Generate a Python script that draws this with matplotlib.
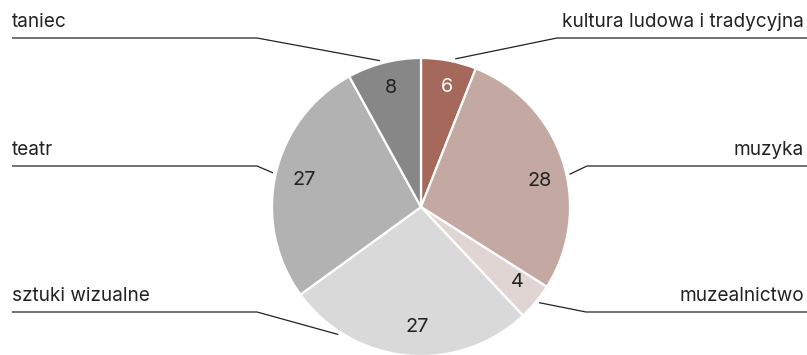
import numpy as np
import matplotlib.pyplot as plt

plt.rcParams['font.family'] = ['Inter', 'DejaVu Sans']

categories = ['kultura ludowa i tradycyjna', 'muzyka', 'muzealnictwo',
              'sztuki wizualne', 'teatr', 'taniec']
values = [6, 28, 4, 27, 27, 8]
colors = ['#a5695b', '#c4a8a2', '#e0d5d3', '#d9d9d9', '#b2b2b2', '#878787']
value_colors = ['white', '#222222', '#222222', '#222222', '#222222', '#222222']

W, H = 807, 355
fig = plt.figure(figsize=(W / 100, H / 100), dpi=100)
ax = fig.add_axes([0, 0, 1, 1])

cx, cy, R = 421, H - 207, 149
ax.pie(values, colors=colors, startangle=90, counterclock=False,
       radius=R, center=(cx, cy),
       wedgeprops=dict(edgecolor='white', linewidth=1.6))

# value labels and leader line anchors (angle in degrees)
value_angle = [78, 12.5, -38, 268, 167, 104]
value_r = [123, 122, 122, 120, 120, 123]
anchor_angle = [77, 12.4, -39, 237, 167, 105.7]
side = ['r', 'r', 'r', 'l', 'l', 'l']
line_y = [38, 166, 312, 312, 166, 38]
bend_x = [557, 587, 586, 257, 257, 257]

for i, cat in enumerate(categories):
    a = np.radians(value_angle[i])
    ax.text(cx + value_r[i] * np.cos(a), cy + value_r[i] * np.sin(a),
            str(values[i]), ha='center', va='center', fontsize=14.3,
            color=value_colors[i])

    b = np.radians(anchor_angle[i])
    px, py = cx + (R + 3) * np.cos(b), cy + (R + 3) * np.sin(b)
    ly = H - line_y[i]
    if side[i] == 'r':
        xs = [px, bend_x[i], W]
        ax.text(W - 3, ly + 7, cat, ha='right', va='bottom',
                fontsize=13.7, color='#222222')
    else:
        xs = [px, bend_x[i], 12]
        ax.text(12, ly + 7, cat, ha='left', va='bottom',
                fontsize=13.7, color='#222222')
    ax.plot(xs, [py, ly, ly], color='#222222', lw=0.9,
            solid_capstyle='butt')

ax.set_xlim(0, W)
ax.set_ylim(0, H)
ax.set_aspect('equal')
ax.axis('off')

fig.savefig('out.png', dpi=100)
